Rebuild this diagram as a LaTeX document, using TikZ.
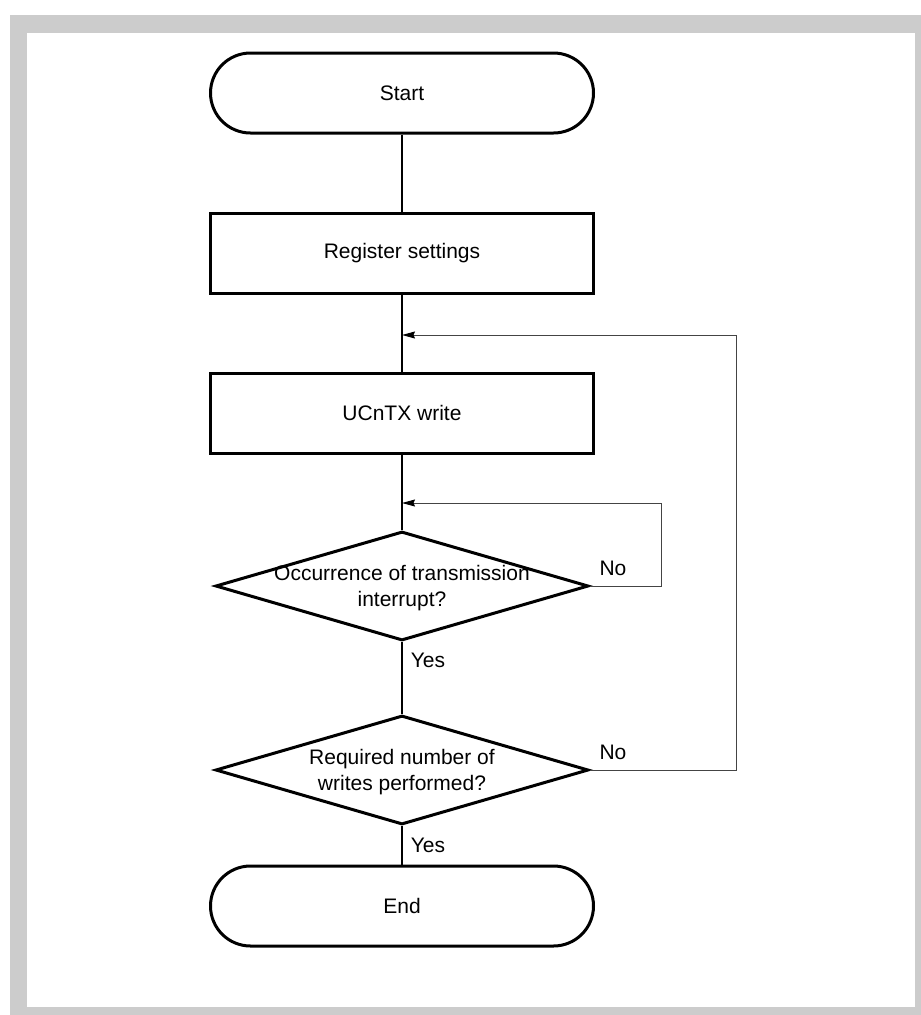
\documentclass[tikz,border=0pt]{standalone}
\usepackage{fontspec}
\setmainfont{Liberation Sans}
\usetikzlibrary{shapes.geometric,arrows.meta}
\definecolor{framegray}{HTML}{CCCCCC}
\definecolor{loopgray}{HTML}{444444}
\begin{document}
\begin{tikzpicture}[x=1pt,y=-1pt,
  every node/.style={font=\fontsize{21}{26}\selectfont},
  terminal/.style={draw, line width=3pt, rounded corners=40pt, minimum width=383pt, minimum height=80pt, inner sep=0pt},
  procbox/.style={draw, line width=3pt, minimum width=383pt, minimum height=80pt, inner sep=0pt},
  decision/.style={draw, diamond, line width=3pt, minimum width=373pt, minimum height=109pt, inner sep=0pt},
  dectext/.style={align=center, inner sep=0pt},
  conn/.style={line width=1.2pt, black},
  fb/.style={line width=1pt, loopgray, -{Stealth[length=13pt,width=7pt,inset=1.5pt,black]}},
  lbl/.style={inner sep=0pt}
]
\useasboundingbox (0,0) rectangle (921,1015);
\fill[framegray] (10,15) rectangle (921,1015);
\fill[white] (27,33) rectangle (915,1007);

\node[terminal] (start) at (402,93) {Start};
\node[procbox] (reg) at (402,253) {Register settings};
\node[procbox] (ucn) at (402,413) {UCnTX write};
\node[decision] (d1) at (402,586) {};
\node[dectext] (d1t) at (402,588) {Occurrence of transmission\\interrupt?};
\node[decision] (d2) at (402,770) {};
\node[dectext] (d2t) at (402,772) {Required number of\\writes performed?};
\node[terminal] (end) at (402,906) {End};

\coordinate (j1) at (402,335);
\coordinate (j2) at (402,503);

\draw[conn] (start) -- (reg);
\draw[conn] (reg) -- (ucn);
\draw[conn] (ucn) -- (d1);
\draw[conn] (d1) -- (d2);
\draw[conn] (d2) -- (end);

\draw[fb] (d1.east) -- ++(71,0) |- (j2);
\draw[fb] (d2.east) -- ++(146,0) |- (j1);

\node[lbl] (no1) at (613,568) {No};
\node[lbl] (no2) at (613,752) {No};
\node[lbl] (yes1) at (428,660) {Yes};
\node[lbl] (yes2) at (428,845) {Yes};
\end{tikzpicture}
\end{document}
